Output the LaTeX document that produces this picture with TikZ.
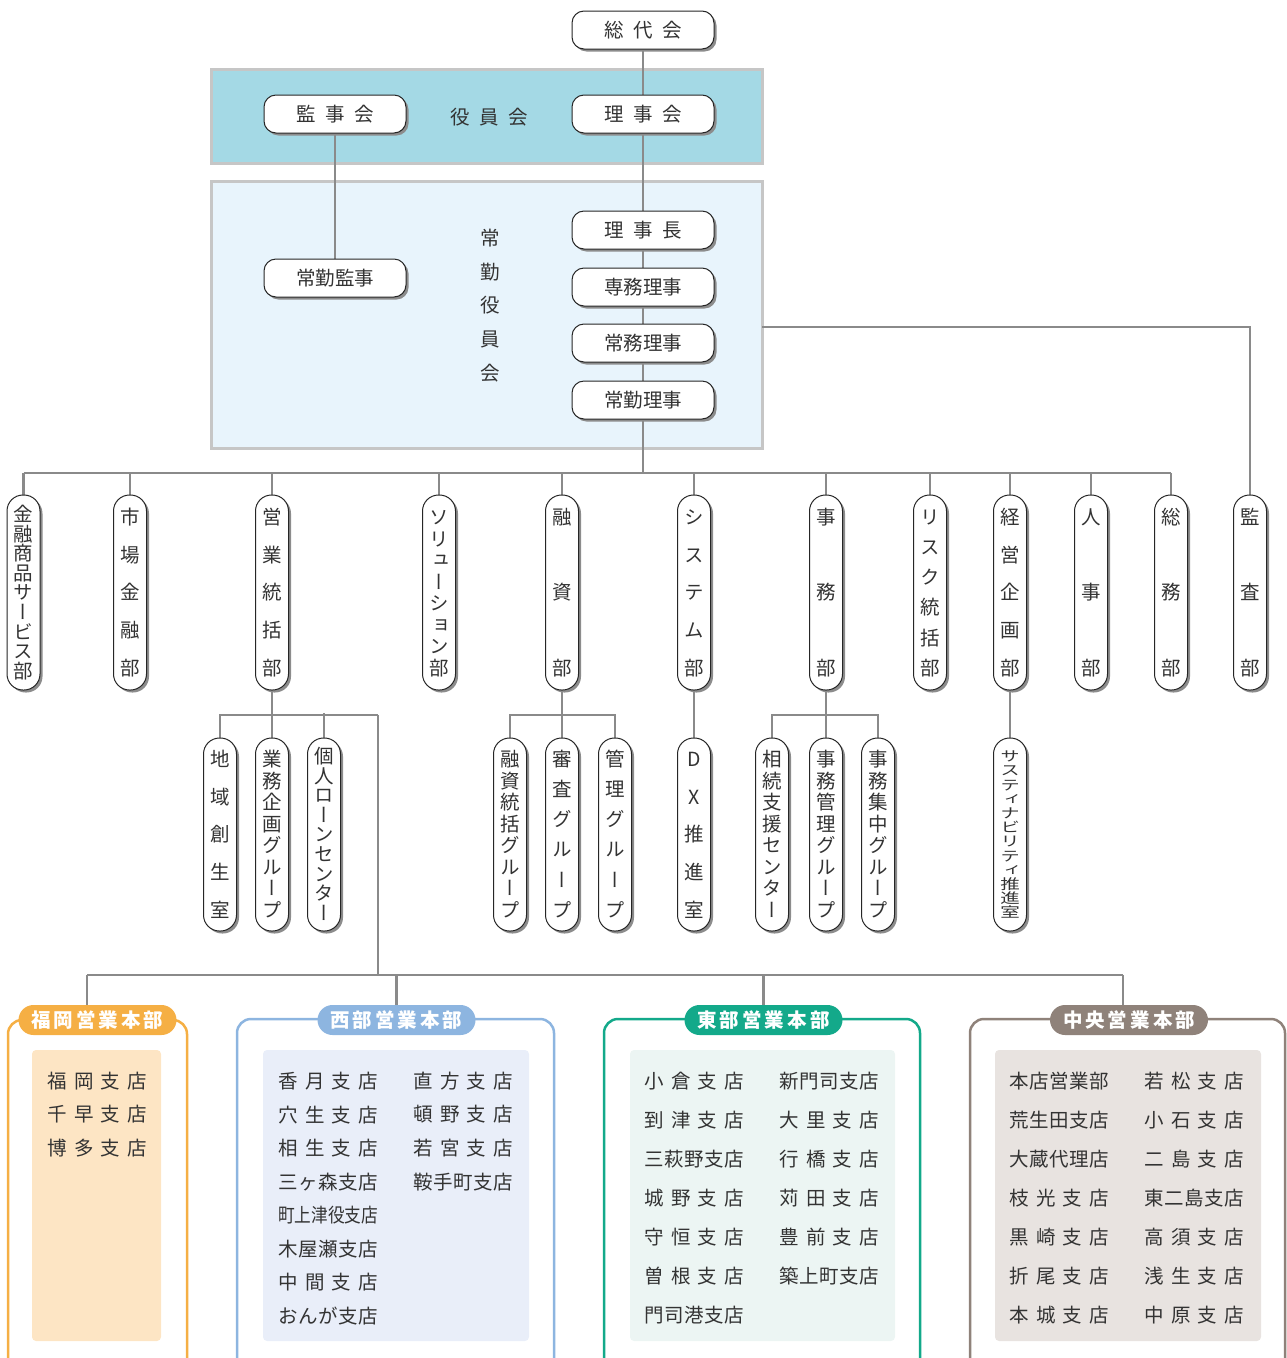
\documentclass[tikz,border=0pt]{standalone}
\usepackage{fontspec}
\setmainfont{Noto Sans CJK JP}
\newfontfamily\vfont[RawFeature=+vert]{Noto Sans CJK JP}
\usetikzlibrary{shadows}
\definecolor{txt}{HTML}{333333}
\definecolor{ln}{HTML}{8A8A8A}
\definecolor{bandone}{HTML}{A4D9E5}
\definecolor{bandtwo}{HTML}{E8F4FC}
\definecolor{bandb}{HTML}{C6C6C6}
\definecolor{fk}{HTML}{F5AF44}
\definecolor{fkin}{HTML}{FDE5C4}
\definecolor{we}{HTML}{8DB5E0}
\definecolor{wein}{HTML}{E9EEF9}
\definecolor{ea}{HTML}{13A98A}
\definecolor{eain}{HTML}{ECF5F3}
\definecolor{ce}{HTML}{8F827A}
\definecolor{cein}{HTML}{E8E3E0}

\ExplSyntaxOn
\bool_new:N \l_my_first_bool
\NewDocumentCommand \vspread { m m }
  {
    \vbox~to~#1
      {
        \offinterlineskip
        \bool_set_true:N \l_my_first_bool
        \tl_map_inline:nn {#2}
          {
            \bool_if:NF \l_my_first_bool { \vfil }
            \bool_set_false:N \l_my_first_bool
            \hbox~to~1em { \hss \vrule~height~.88em~depth~.12em~width~0pt\relax ##1 \hss }
          }
      }
  }
\NewDocumentCommand \hspread { m m }
  {
    \hbox~to~#1
      {
        \bool_set_true:N \l_my_first_bool
        \tl_map_inline:nn {#2}
          {
            \bool_if:NF \l_my_first_bool { \hfil }
            \bool_set_false:N \l_my_first_bool
            ##1
          }
      }
  }
\ExplSyntaxOff

\pgfdeclarelayer{bands}
\pgfdeclarelayer{lines}
\pgfsetlayers{bands,lines,main}

\tikzset{
  hb/.style={draw=black!85, line width=1pt, fill=white, rounded corners=12pt,
    minimum width=142pt, minimum height=38pt, inner sep=0pt,
    general shadow={fill=black!45, shadow xshift=2.5pt, shadow yshift=-2.5pt},
    font=\fontsize{19.5pt}{21pt}\selectfont, text=txt},
  vb/.style={hb, rounded corners=16pt, minimum width=33pt, minimum height=195pt,
    font=\vfont\fontsize{19.5pt}{21pt}\selectfont},
  vbs/.style={vb, minimum height=193pt},
  lbl/.style={inner sep=0pt, text=txt, font=\fontsize{19.5pt}{21pt}\selectfont},
  conn/.style={draw=ln, line width=2.3pt},
  band/.style={draw=bandb, line width=3pt, inner sep=0pt},
  pill/.style={rounded corners=15pt, minimum width=158pt, minimum height=30pt,
    inner sep=0pt, text=white, font=\bfseries\fontsize{19.5pt}{21pt}\selectfont},
  br/.style={anchor=west, inner sep=0pt, text=txt, font=\fontsize{19.5pt}{21pt}\selectfont},
  frm/.style={line width=2.5pt, rounded corners=14pt},
}

\begin{document}
\begin{tikzpicture}[x=1pt,y=-1pt]
\useasboundingbox (0,0) rectangle (1287,1358);

% bands
\begin{pgfonlayer}{bands}
\node[band, fill=bandone, minimum width=551pt, minimum height=94pt] (band1) at (486.5,116) {};
\node[band, fill=bandtwo, minimum width=551pt, minimum height=267pt] (band2) at (486.5,314.5) {};
\end{pgfonlayer}

% top nodes
\node[hb] (sodai) at (643,30) {\hspread{78pt}{総代会}};
\node[hb] (kanjikai) at (335,114) {\hspread{78pt}{監事会}};
\node[lbl] (yakuinkai) at (489,117) {\hspread{78pt}{役員会}};
\node[hb] (rijikai) at (643,114) {\hspread{78pt}{理事会}};
\node[hb] (rijicho) at (643,230) {\hspread{78pt}{理事長}};
\node[hb] (senmu) at (643,287) {\hspread{78pt}{専務理事}};
\node[hb] (jomu) at (643,343) {\hspread{78pt}{常務理事}};
\node[hb] (jokin) at (643,400) {\hspread{78pt}{常勤理事}};
\node[hb] (jokinkanji) at (335,278) {\hspread{78pt}{常勤監事}};
\node[lbl] (jokinyakuin) at (490,305.5) {\vspread{152pt}{常勤役員会}};

% departments
\node[vb] (d1) at (23.5,592.5) {\vspread{174pt}{金融商品サービス部}};
\node[vb] (d2) at (130,592.5) {\vspread{167.5pt}{市場金融部}};
\node[vb] (d3) at (272,592.5) {\vspread{167.5pt}{営業統括部}};
\node[vb] (d4) at (439,592.5) {\vspread{167.5pt}{ソリューション部}};
\node[vb] (d5) at (562,592.5) {\vspread{167.5pt}{融資部}};
\node[vb] (d6) at (694,592.5) {\vspread{167.5pt}{システム部}};
\node[vb] (d7) at (826,592.5) {\vspread{167.5pt}{事務部}};
\node[vb] (d8) at (930,592.5) {\vspread{167.5pt}{リスク統括部}};
\node[vb] (d9) at (1010,592.5) {\vspread{167.5pt}{経営企画部}};
\node[vb] (d10) at (1091,592.5) {\vspread{167.5pt}{人事部}};
\node[vb] (d11) at (1171,592.5) {\vspread{167.5pt}{総務部}};
\node[vb] (d12) at (1250,592.5) {\vspread{167.5pt}{監査部}};

% sections
\node[vbs] (s1) at (220,834.5) {\vspread{167.5pt}{地域創生室}};
\node[vbs] (s2) at (272,834.5) {\vspread{167.5pt}{業務企画グループ}};
\node[vbs] (s3) at (324,834.5) {\vspread{174pt}{個人ローンセンター}};
\node[vbs] (s4) at (510,834.5) {\vspread{167.5pt}{融資統括グループ}};
\node[vbs] (s5) at (562,834.5) {\vspread{167.5pt}{審査グループ}};
\node[vbs] (s6) at (615,834.5) {\vspread{167.5pt}{管理グループ}};
\node[vbs] (s7) at (694,834.5) {\vspread{167.5pt}{DX推進室}};
\node[vbs] (s8) at (772,834.5) {\vspread{167.5pt}{相続支援センター}};
\node[vbs] (s9) at (826,834.5) {\vspread{167.5pt}{事務管理グループ}};
\node[vbs] (s10) at (878,834.5) {\vspread{167.5pt}{事務集中グループ}};
\node[vbs] (s11) at (1010,834.5) {\scalebox{1}[0.72]{\vspread{234pt}{サスティナビリティ推進室}}};

% regional frames
\begin{scope}
\clip (0,0) rectangle (1287,1358);
\draw[frm, draw=fk] (8,1020) rectangle (187,1400);
\draw[frm, draw=we] (237,1019) rectangle (554,1400);
\draw[frm, draw=ea] (604,1019) rectangle (920,1400);
\draw[frm, draw=ce] (970,1019) rectangle (1285,1400);
\end{scope}
\fill[fkin, rounded corners=4pt] (32,1050) rectangle (161,1341);
\fill[wein, rounded corners=4pt] (263,1050) rectangle (529,1341);
\fill[eain, rounded corners=4pt] (630,1050) rectangle (895,1341);
\fill[cein, rounded corners=4pt] (995,1050) rectangle (1261,1341);

\node[pill, fill=fk] (fkpill) at (97.5,1020) {\hspread{132pt}{福岡営業本部}};
\node[pill, fill=we] (wepill) at (396.5,1020) {\hspread{132pt}{西部営業本部}};
\node[pill, fill=ea] (eapill) at (763.5,1020) {\hspread{132pt}{東部営業本部}};
\node[pill, fill=ce] (cepill) at (1129,1020) {\hspread{132pt}{中央営業本部}};

% Fukuoka
\node[br] (f1) at (47,1081) {\hspread{100pt}{福岡支店}};
\node[br] (f2) at (47,1114) {\hspread{100pt}{千早支店}};
\node[br] (f3) at (47,1148) {\hspread{100pt}{博多支店}};
% West
\node[br] (w1) at (278,1081) {\hspread{100pt}{香月支店}};
\node[br] (w2) at (278,1114.6) {\hspread{100pt}{穴生支店}};
\node[br] (w3) at (278,1148.2) {\hspread{100pt}{相生支店}};
\node[br] (w4) at (278,1181.8) {\hspread{100pt}{三ヶ森支店}};
\node[br] (w5) at (278,1215.4) {\scalebox{0.855}[1]{\hspread{117pt}{町上津役支店}}};
\node[br] (w6) at (278,1249) {\hspread{100pt}{木屋瀬支店}};
\node[br] (w7) at (278,1282.6) {\hspread{100pt}{中間支店}};
\node[br] (w8) at (278,1316.2) {\hspread{100pt}{おんが支店}};
\node[br] (w9) at (413,1081) {\hspread{100pt}{直方支店}};
\node[br] (w10) at (413,1114.6) {\hspread{100pt}{頓野支店}};
\node[br] (w11) at (413,1148.2) {\hspread{100pt}{若宮支店}};
\node[br] (w12) at (413,1181.8) {\hspread{100pt}{鞍手町支店}};
% East
\node[br] (e1) at (644,1081) {\hspread{100pt}{小倉支店}};
\node[br] (e2) at (644,1120) {\hspread{100pt}{到津支店}};
\node[br] (e3) at (644,1159) {\hspread{100pt}{三萩野支店}};
\node[br] (e4) at (644,1198) {\hspread{100pt}{城野支店}};
\node[br] (e5) at (644,1237) {\hspread{100pt}{守恒支店}};
\node[br] (e6) at (644,1276) {\hspread{100pt}{曽根支店}};
\node[br] (e7) at (644,1315) {\hspread{100pt}{門司港支店}};
\node[br] (e8) at (779,1081) {\hspread{100pt}{新門司支店}};
\node[br] (e9) at (779,1120) {\hspread{100pt}{大里支店}};
\node[br] (e10) at (779,1159) {\hspread{100pt}{行橋支店}};
\node[br] (e11) at (779,1198) {\hspread{100pt}{苅田支店}};
\node[br] (e12) at (779,1237) {\hspread{100pt}{豊前支店}};
\node[br] (e13) at (779,1276) {\hspread{100pt}{築上町支店}};
% Central
\node[br] (c1) at (1009,1081) {\hspread{100pt}{本店営業部}};
\node[br] (c2) at (1009,1120) {\hspread{100pt}{荒生田支店}};
\node[br] (c3) at (1009,1159) {\hspread{100pt}{大蔵代理店}};
\node[br] (c4) at (1009,1198) {\hspread{100pt}{枝光支店}};
\node[br] (c5) at (1009,1237) {\hspread{100pt}{黒崎支店}};
\node[br] (c6) at (1009,1276) {\hspread{100pt}{折尾支店}};
\node[br] (c7) at (1009,1315) {\hspread{100pt}{本城支店}};
\node[br] (c8) at (1144,1081) {\hspread{100pt}{若松支店}};
\node[br] (c9) at (1144,1120) {\hspread{100pt}{小石支店}};
\node[br] (c10) at (1144,1159) {\hspread{100pt}{二島支店}};
\node[br] (c11) at (1144,1198) {\hspread{100pt}{東二島支店}};
\node[br] (c12) at (1144,1237) {\hspread{100pt}{高須支店}};
\node[br] (c13) at (1144,1276) {\hspread{100pt}{浅生支店}};
\node[br] (c14) at (1144,1315) {\hspread{100pt}{中原支店}};

% connectors
\begin{pgfonlayer}{lines}
\coordinate (bus1) at (643,473);
\coordinate (r1) at (762,327);
\coordinate (b2) at (0,715);
\coordinate (b2r) at (378,715);
\coordinate (bus3) at (0,975);
\coordinate (fkdrop) at (87,975);
\coordinate (cedrop) at (1123,975);
\draw[conn] (sodai) -- (rijikai);
\draw[conn] (rijikai) -- (rijicho);
\draw[conn] (rijicho) -- (senmu);
\draw[conn] (senmu) -- (jomu);
\draw[conn] (jomu) -- (jokin);
\draw[conn] (jokin) -- (bus1);
\draw[conn] (kanjikai) -- (jokinkanji);
\draw[conn] (d1.north |- bus1) -- (d11.north |- bus1);
\foreach \n in {1,...,11} \draw[conn] (d\n.north) -- (d\n.north |- bus1);
\draw[conn] (r1) -| (d12.north);
% eigyo group
\draw[conn] (d3.south) -- (d3.south |- b2);
\draw[conn] (s1.north) |- (b2r);
\draw[conn] (s2.north) -- (s2.north |- b2);
\draw[conn] ([yshift=2pt]s3.north |- b2) -- (s3.north);
% yushi group
\draw[conn] (d5.south) -- (d5.south |- b2);
\draw[conn] (s4.north) |- (s6.north |- b2) -- (s6.north);
\draw[conn] (s5.north) -- (s5.north |- b2);
% system
\draw[conn] (d6) -- (s7);
% jimu group
\draw[conn] (d7.south) -- (d7.south |- b2);
\draw[conn] (s8.north) |- (s10.north |- b2) -- (s10.north);
\draw[conn] (s9.north) -- (s9.north |- b2);
% keiei
\draw[conn] (d9) -- (s11);
% regional bus
\draw[conn] (b2r) -- (b2r |- bus3);
\draw[conn] (fkdrop) -- (cedrop);
\draw[conn] (fkdrop) -- (fkdrop |- fkpill.north);
\draw[conn] (wepill.north |- bus3) -- (wepill.north);
\draw[conn] (eapill.north |- bus3) -- (eapill.north);
\draw[conn] (cedrop) -- (cedrop |- cepill.north);
\end{pgfonlayer}
\end{tikzpicture}
\end{document}
